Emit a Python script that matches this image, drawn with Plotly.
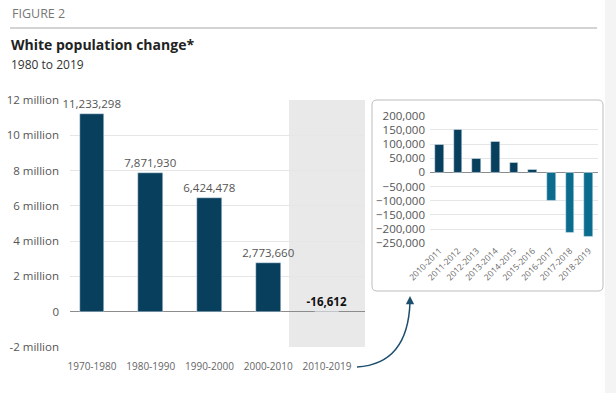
import plotly.graph_objects as go

# ---- data ----
decades = ["1970-1980", "1980-1990", "1990-2000", "2000-2010", "2010-2019"]
decade_change = [11233298, 7871930, 6424478, 2773660, -16612]
main_ticks = [-2000000, 0, 2000000, 4000000, 6000000, 8000000, 10000000, 12000000]
main_tick_labels = ["-2 million", "0", "2 million", "4 million", "6 million",
                    "8 million", "10 million", "12 million"]

years = ["2010-2011", "2011-2012", "2012-2013", "2013-2014", "2014-2015",
         "2015-2016", "2016-2017", "2017-2018", "2018-2019"]
year_change = [97000, 152000, 49000, 107500, 36000, 8000, -98000, -214000, -226000]
inset_ticks = [-250000, -200000, -150000, -100000, -50000, 0, 50000, 100000, 150000, 200000]

W, H = 616, 393
def px(x):
    return x / W
def py(y):
    return 1 - y / H

NAVY = "#073f5d"
TEAL = "#0b6c8e"
FONT = "Open Sans"

main_colors = [NAVY if v >= 0 else TEAL for v in decade_change]
main_text = [f"{v:,}" if v >= 0 else f"<b>{v:,}</b>" for v in decade_change]
main_text_colors = ["#555555" if v >= 0 else "#111111" for v in decade_change]
inset_colors = [NAVY if v >= 0 else TEAL for v in year_change]

fig = go.Figure()
fig.add_trace(go.Bar(
    x=list(range(len(decades))), y=decade_change, marker_color=main_colors,
    width=0.42, text=main_text, textposition="outside", constraintext="none",
    textfont=dict(size=11.5, color=main_text_colors, family=FONT),
    cliponaxis=False, xaxis="x", yaxis="y", hoverinfo="skip",
))
fig.add_trace(go.Bar(
    x=list(range(len(years))), y=year_change, marker_color=inset_colors,
    width=0.45, xaxis="x2", yaxis="y2", hoverinfo="skip",
))

grid = "#e6e6e6"
fig.update_layout(
    width=W, height=H, autosize=False,
    margin=dict(l=0, r=0, t=0, b=0),
    paper_bgcolor="white", plot_bgcolor="rgba(0,0,0,0)",
    showlegend=False, bargap=0,
    font=dict(family=FONT, color="#555555"),
    xaxis=dict(domain=[px(70), px(365)], range=[-0.374, 4.647], automargin=False,
               tickmode="array", tickvals=list(range(len(decades))), ticktext=decades,
               tickfont=dict(size=10, color="#666666"), showgrid=False,
               zeroline=False, showline=False, ticks="", ticklabelstandoff=12),
    yaxis=dict(domain=[py(347), py(100)], range=[-2000000, 12000000], automargin=False,
               tickmode="array", tickvals=main_ticks, ticktext=main_tick_labels,
               tickfont=dict(size=11.5, color="#555555"), gridcolor=grid,
               zeroline=True, zerolinecolor="#8c8c8c", zerolinewidth=1,
               showline=False, ticks="", ticklabelstandoff=10),
    xaxis2=dict(domain=[px(430), px(598)], range=[-0.5, 8.5], anchor="y2", automargin=False,
                tickmode="array", tickvals=list(range(len(years))), ticktext=years,
                tickangle=-45, tickfont=dict(size=8.5, color="#666666"),
                showgrid=False, zeroline=False, showline=False, ticks=""),
    yaxis2=dict(domain=[py(243.3), py(115.7)], range=[-250000, 200000], anchor="x2",
                automargin=False,
                tickmode="array", tickvals=inset_ticks, tickformat=",",
                tickfont=dict(size=11.5, color="#555555"), gridcolor=grid,
                zeroline=True, zerolinecolor="#8c8c8c", zerolinewidth=1,
                showline=False, ticks="", ticklabelstandoff=4),
)

shapes = []
# shaded 2010-2019 column
shapes.append(dict(type="rect", xref="x", yref="y domain", x0=3.353, x1=4.647, y0=0, y1=1,
                   fillcolor="#e9e9e9", line=dict(width=0), layer="below"))
# right page band
shapes.append(dict(type="rect", xref="paper", yref="paper", x0=px(605), x1=1, y0=0, y1=1,
                   fillcolor="#f4f4f4", line=dict(width=0), layer="below"))
# rule under FIGURE 2
shapes.append(dict(type="line", xref="paper", yref="paper", x0=px(10), x1=px(597),
                   y0=py(28), y1=py(28), line=dict(color="#a8a8a8", width=1)))
# inset rounded box
x0, x1, y0, y1, r = 372, 603, 100, 291, 5
path = (f"M {px(x0+r)},{py(y0)} L {px(x1-r)},{py(y0)} Q {px(x1)},{py(y0)} {px(x1)},{py(y0+r)} "
        f"L {px(x1)},{py(y1-r)} Q {px(x1)},{py(y1)} {px(x1-r)},{py(y1)} "
        f"L {px(x0+r)},{py(y1)} Q {px(x0)},{py(y1)} {px(x0)},{py(y1-r)} "
        f"L {px(x0)},{py(y0+r)} Q {px(x0)},{py(y0)} {px(x0+r)},{py(y0)} Z")
shapes.append(dict(type="path", xref="paper", yref="paper", path=path,
                   line=dict(color="#bdbdbd", width=1), fillcolor="rgba(0,0,0,0)", layer="below"))
# curved arrow
arrow = f"M {px(357)},{py(367)} Q {px(408)},{py(364)} {px(410)},{py(302)}"
shapes.append(dict(type="path", xref="paper", yref="paper", path=arrow,
                   line=dict(color="#1d4f6d", width=1.5)))
fig.update_layout(shapes=shapes)

annotations = [
    dict(text="FIGURE 2", x=px(10), y=py(13), xref="paper", yref="paper",
         xanchor="left", yanchor="middle", showarrow=False,
         font=dict(size=12.5, color="#777777", family=FONT)),
    dict(text="<b>White population change*</b>", x=px(9), y=py(44.5), xref="paper", yref="paper",
         xanchor="left", yanchor="middle", showarrow=False,
         font=dict(size=14, color="#222222", family=FONT)),
    dict(text="1980 to 2019", x=px(9), y=py(64), xref="paper", yref="paper",
         xanchor="left", yanchor="middle", showarrow=False,
         font=dict(size=12, color="#333333", family=FONT)),
    dict(text="", x=px(410), y=py(296), xref="paper", yref="paper",
         ax=0, ay=9, showarrow=True, arrowhead=2, arrowsize=1.1, arrowwidth=1.5,
         arrowcolor="#1d4f6d"),
]
fig.update_layout(annotations=annotations)

fig.write_html("out.html", config={"displayModeBar": False})

# remove the browser's default page margin so the figure sits at the window origin
with open("out.html", "r", encoding="utf-8") as f:
    html = f.read()
html = html.replace("<head>", "<head><style>html,body{margin:0;padding:0;}</style>", 1)
with open("out.html", "w", encoding="utf-8") as f:
    f.write(html)
